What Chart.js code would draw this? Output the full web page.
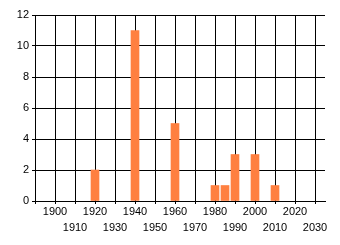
<!DOCTYPE html>
<html>
<head>
<meta charset="utf-8">
<script src="https://cdn.jsdelivr.net/npm/chart.js@4/dist/chart.umd.min.js"></script>
<style>
  html, body { margin: 0; padding: 0; background: #fff; }
</style>
</head>
<body>
<canvas id="myChart" width="340" height="245"></canvas>
<script>
// data
var years = [1920, 1940, 1960, 1980, 1985, 1990, 2000, 2010];
var counts = [2, 11, 5, 1, 1, 3, 3, 1];
var yTicks = [0, 2, 4, 6, 8, 10, 12];
var xTicks = [1900, 1910, 1920, 1930, 1940, 1950, 1960, 1970, 1980, 1990, 2000, 2010, 2020, 2030];

var ctx = document.getElementById("myChart").getContext("2d");
var points = years.map(function (y, i) { return { x: y, y: counts[i] }; });

new Chart(ctx, {
  type: "bar",
  data: {
    datasets: [
      {
        data: points,
        backgroundColor: "#FF8040",
        borderWidth: 0,
        barThickness: 8,
      },
    ],
  },
  options: {
    responsive: false,
    animation: false,
    layout: { padding: { top: 15, right: 15, left: 0, bottom: 0 } },
    plugins: { legend: { display: false }, tooltip: { enabled: false } },
    scales: {
      x: {
        type: "linear",
        offset: false,
        min: 1890,
        max: 2035,
        afterFit: function (scale) { scale.height = 44; },
        afterBuildTicks: function (scale) {
          scale.ticks = [{ value: 1890 }].concat(xTicks.map(function (v) { return { value: v }; }));
        },
        border: { display: true, color: "#000", width: 1 },
        grid: { color: "#000", lineWidth: 1, tickLength: 3, offset: false },
        ticks: {
          autoSkip: false,
          maxRotation: 0,
          padding: 0,
          color: "#000",
          font: { family: "Liberation Sans", size: 11, lineHeight: 1.45 },
          callback: function (v) {
            if (xTicks.indexOf(v) < 0) return "";
            return (v / 10) % 2 === 0 ? String(v) : ["", String(v)];
          },
        },
      },
      y: {
        min: 0,
        max: 12,
        afterFit: function (scale) { scale.width = 35; },
        afterBuildTicks: function (scale) {
          scale.ticks = yTicks.map(function (v) { return { value: v }; });
        },
        border: { display: true, color: "#000", width: 1 },
        grid: { color: "#000", lineWidth: 1, tickLength: 3 },
        ticks: {
          padding: 3,
          color: "#000",
          font: { family: "Liberation Sans", size: 11 },
        },
      },
    },
  },
});
</script>
</body>
</html>
